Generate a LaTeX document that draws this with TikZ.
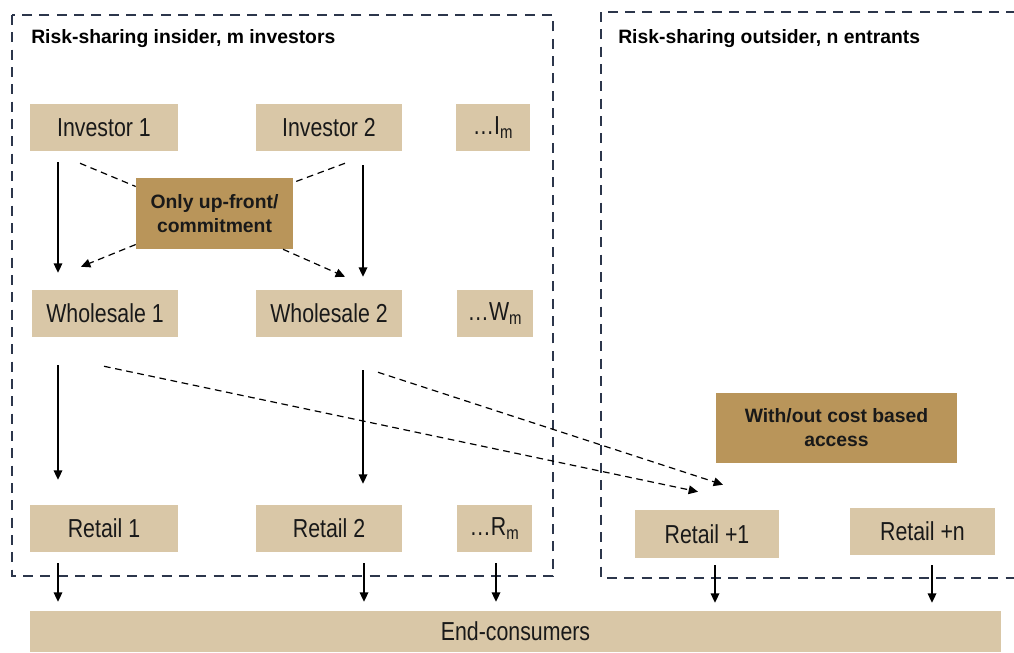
\documentclass[tikz,border=0pt]{standalone}
\usepackage{fontspec}
\setmainfont{Liberation Sans}
\newfontfamily\narrowfont[FakeStretch=0.82]{Liberation Sans}
\usetikzlibrary{arrows.meta,calc}
\definecolor{tanlight}{HTML}{D9C7A7}
\definecolor{tandark}{HTML}{B9955A}
\definecolor{navy}{HTML}{2C364B}
\tikzset{
  box/.style={fill=tanlight, inner sep=0pt, minimum height=35.25pt,
    font=\narrowfont\fontsize{19.5}{22}\selectfont, text=black!90},
  notebox/.style={fill=tandark, inner sep=0pt, align=center,
    font=\bfseries\fontsize{14.5}{18}\selectfont, text=black!90},
  region/.style={draw=navy, line width=1.5pt, dash pattern=on 7.5pt off 5.5pt},
  title/.style={anchor=base west, inner sep=0pt, font=\bfseries\fontsize{14.5}{17}\selectfont},
  flow/.style={draw=black, line width=0.9pt, -{Triangle[length=7pt,width=6.5pt]}},
  dflow/.style={draw=black, line width=0.9pt, dash pattern=on 5pt off 3.5pt, -{Triangle[length=7pt,width=6.5pt]}},
  dline/.style={draw=black, line width=0.9pt, dash pattern=on 5pt off 3.5pt}
}
\begin{document}
\begin{tikzpicture}[x=0.75pt,y=-0.75pt]
\useasboundingbox (0,0) rectangle (1014,653);
\clip (0,0) rectangle (1014,653);

% regions
\draw[region] (12,15) rectangle (553,576);
\draw[region] (601,12) rectangle (1040,578);
\node[title] (tin) at (31,43) {Risk-sharing insider, m investors};
\node[title] (tout) at (618,43) {Risk-sharing outsider, n entrants};

% insider nodes
\node[box, minimum width=111pt]   (inv1) at (104,127.5) {Investor 1};
\node[box, minimum width=109.5pt] (inv2) at (329,127.5) {Investor 2};
\node[box, minimum width=55.5pt]  (invm) at (493,127.5) {…I\textsubscript{m}};

\node[box, minimum width=109.5pt] (wh1) at (105,313.5) {Wholesale 1};
\node[box, minimum width=109.5pt] (wh2) at (329,313.5) {Wholesale 2};
\node[box, minimum width=57pt]    (whm) at (495,313.5) {…W\textsubscript{m}};

\node[box, minimum width=111pt]   (ret1) at (104,528.5) {Retail 1};
\node[box, minimum width=109.5pt] (ret2) at (329,528.5) {Retail 2};
\node[box, minimum width=56.25pt] (retm) at (494.5,528.5) {…R\textsubscript{m}};

% outsider nodes
\node[box, minimum width=108pt, minimum height=36pt] (rp1) at (707,534) {Retail +1};
\node[box, minimum width=108.75pt] (rpn) at (922.5,531.5) {Retail +n};

\node[box, minimum width=728.25pt, minimum height=30.75pt] (end) at (515.5,631.5) {End-consumers};

% dashed lines into commitment box (drawn before the box)
\coordinate (cA) at ($(inv1.south)+(-24,12)$);
\coordinate (cB) at ($(inv2.south)+(16,12)$);

% commitment box
\node[notebox, minimum width=117.75pt, minimum height=53.25pt] (commit) at (214.5,213.5) {Only up-front/\\commitment};
\draw[dline] (cA) -- ($(commit.west)+(0,-27)$);
\draw[dline] (cB) -- ($(commit.east)+(0,-31)$);
\draw[dflow] ($(commit.west)+(0,31)$) -- ($(wh1.north)+(-24,-23)$);
\draw[dflow] ($(commit.south)+(68.5,0)$) -- ($(wh2.north)+(16,-13)$);

% access box
\node[notebox, minimum width=180.75pt, minimum height=52.5pt] (access) at (836.5,428) {With/out cost based\\access};

% solid vertical flows
\draw[flow] ($(inv1.south)+(-46,11)$) -- ($(wh1.north)+(-47,-17)$);
\draw[flow] ($(inv2.south)+(34,14)$) -- ($(wh2.north)+(34,-13)$);
\draw[flow] ($(wh1.south)+(-47,28)$) -- ($(ret1.north)+(-46,-25)$);
\draw[flow] ($(wh2.south)+(34,33)$) -- ($(ret2.north)+(34,-21)$);

% dashed flows to entrant retail
\draw[dflow] ($(wh1.south)+(-1,29)$) -- ($(rp1.north)+(-9,-18)$);
\draw[dflow] ($(wh2.south)+(49,35)$) -- ($(rp1.north)+(16,-25)$);

% retail to end-consumers
\draw[flow] ($(ret1.south)+(-46,11)$) -- ($(end.north)+(-457.5,-9)$);
\draw[flow] ($(ret2.south)+(35,11)$) -- ($(end.north)+(-151.5,-9)$);
\draw[flow] ($(retm.south)+(1.5,11)$) -- ($(end.north)+(-19.5,-9)$);
\draw[flow] ($(rp1.south)+(8,7)$) -- ($(end.north)+(199.5,-8)$);
\draw[flow] ($(rpn.south)+(9.5,10)$) -- ($(end.north)+(416.5,-8)$);
\end{tikzpicture}
\end{document}
